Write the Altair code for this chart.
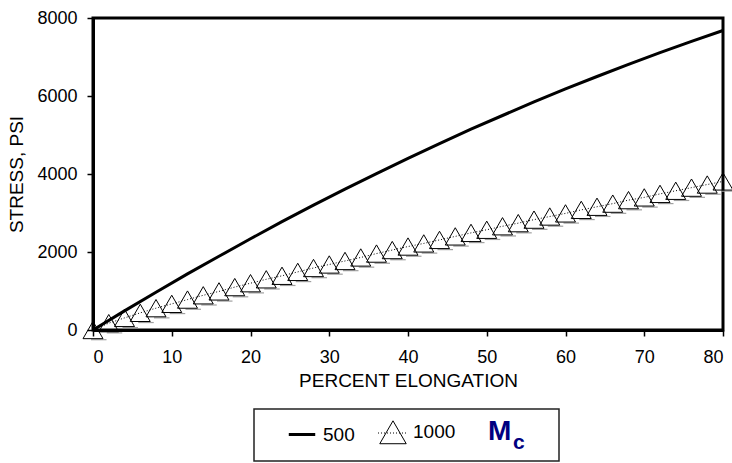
import altair as alt
import pandas as pd

# ---- data ----
elong_500 = [0, 4, 8, 12, 16, 20, 24, 28, 32, 36, 40, 44, 48, 52, 56, 60, 64, 68, 72, 76, 80]
stress_500 = [0, 490, 970, 1440, 1890, 2340, 2780, 3200, 3610, 4010, 4400, 4780, 5150,
              5500, 5850, 6180, 6500, 6810, 7110, 7400, 7680]

elong_1000 = [0, 2, 4, 6, 8, 10, 12, 14, 16, 18, 20, 22, 24, 26, 28, 30, 32, 34, 36, 38, 40,
              42, 44, 46, 48, 50, 52, 54, 56, 58, 60, 62, 64, 66, 68, 70, 72, 74, 76, 78, 80]
stress_1000 = [0, 175, 310, 440, 560, 670, 780, 890, 990, 1100, 1200, 1300, 1390, 1490, 1590,
               1680, 1770, 1860, 1960, 2050, 2140, 2220, 2310, 2400, 2490, 2570, 2660, 2740,
               2830, 2910, 2990, 3080, 3160, 3240, 3330, 3400, 3490, 3570, 3650, 3730, 3810]

series_names = ["500", "1000"]
x_ticks = [0, 10, 20, 30, 40, 50, 60, 70, 80]
y_ticks = [0, 2000, 4000, 6000, 8000]

df500 = pd.DataFrame({"x": elong_500, "y": stress_500, "series": "500"})
df1000 = pd.DataFrame({"x": elong_1000, "y": stress_1000, "series": "1000"})

FONT = "Liberation Sans"
LEGEND_TITLE = "M"

xenc = alt.X("x:Q", scale=alt.Scale(domain=[0, 80], nice=False),
             axis=alt.Axis(values=x_ticks, title="PERCENT ELONGATION", format="d",
                           labelPadding=12, titlePadding=5))
yenc = alt.Y("y:Q", scale=alt.Scale(domain=[0, 8000], nice=False),
             axis=alt.Axis(values=y_ticks, title="STRESS, PSI", format="d",
                           labelPadding=10, titlePadding=10))

line500 = alt.Chart(df500).mark_line(color="black", strokeWidth=3, clip=False).encode(
    x=xenc, y=yenc)

line1000 = alt.Chart(df1000).mark_line(color="black", strokeWidth=1, strokeDash=[1, 2],
                                       clip=False).encode(x=xenc, y=yenc)

shadow = alt.Chart(df1000).mark_point(shape="M-0.2,0.97L1.35,0.97", color="#a0a0a0",
                                      strokeWidth=1.2, size=400, filled=False,
                                      opacity=1).encode(x=xenc, y=yenc)

points = alt.Chart(df1000).mark_point(color="black", filled=False, size=400,
                                      opacity=1).encode(
    x=xenc, y=yenc,
    shape=alt.Shape("series:N",
                    scale=alt.Scale(domain=series_names, range=["stroke", "triangle-up"]),
                    legend=alt.Legend(title=LEGEND_TITLE)),
    strokeWidth=alt.StrokeWidth("series:N",
                                scale=alt.Scale(domain=series_names, range=[3, 1]),
                                legend=alt.Legend(title=LEGEND_TITLE)),
)

one_row = pd.DataFrame({"t": ["c"]})

# legend frame and decorations (layout only)
legend_box = alt.Chart(one_row).mark_rect(fill="white", fillOpacity=0, stroke="#222222",
                                          strokeWidth=1.5).encode(
    x=alt.value(161), x2=alt.value(466), y=alt.value(391), y2=alt.value(443))

legend_dots = alt.Chart(one_row).mark_rule(color="black", strokeWidth=1,
                                           strokeDash=[1, 2]).encode(
    x=alt.value(285), x2=alt.value(313), y=alt.value(415))

sub_c = alt.Chart(one_row).mark_text(
    font=FONT, fontSize=21, fontWeight="bold", color="#000080", align="left",
    baseline="middle").encode(text="t:N", x=alt.value(420), y=alt.value(425))

chart = alt.layer(line500, line1000, shadow, points, legend_box, legend_dots,
                  sub_c).properties(
    width=630, height=312,
    autosize=alt.AutoSizeParams(type="none"),
    padding={"left": 93, "top": 18, "right": 9, "bottom": 133},
).configure_view(
    stroke="black", strokeWidth=3
).configure_axis(
    domainColor="black", domainWidth=3, tickColor="black", tickWidth=1.5, tickSize=6,
    labelFont=FONT, labelFontSize=18, labelColor="black",
    titleFont=FONT, titleFontSize=19, titleFontWeight="normal", titleColor="black",
    grid=False,
).configure_legend(
    orient="none", legendX=161, legendY=391, direction="horizontal",
    padding=9,
    symbolSize=700, symbolStrokeColor="black", symbolFillColor="transparent",
    symbolOffset=24,
    labelFont=FONT, labelFontSize=19, labelColor="black", labelOffset=6,
    columnPadding=0,
    titleOrient="right", titleFont=FONT, titleFontSize=28, titleFontWeight="bold",
    titleColor="#000080", titlePadding=33, titleBaseline="middle",
)

chart.save("out.html", embed_options={"renderer": "svg", "actions": False})
